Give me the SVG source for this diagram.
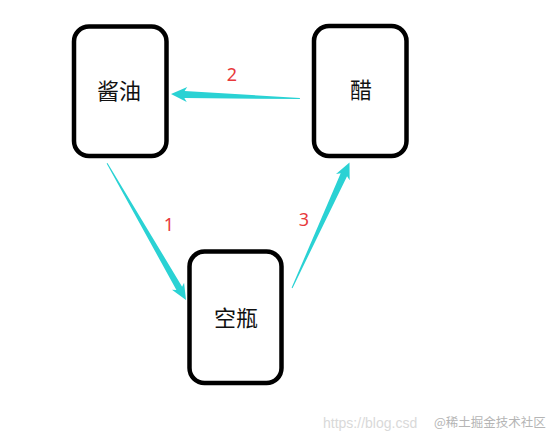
<svg xmlns="http://www.w3.org/2000/svg" width="553" height="443" viewBox="0 0 553 443">
  <style>
    .box { fill: #ffffff; stroke: #000000; stroke-width: 4.5; }
    .lbl { font-family: "Noto Sans CJK SC", "Noto Sans", sans-serif; font-size: 22px; fill: #111111; text-anchor: middle; }
    .num { font-family: "Noto Sans", "Liberation Sans", sans-serif; font-size: 18px; fill: #e8393b; text-anchor: middle; }
    .arr { fill: #2ad2d4; }
    .wm1 { font-family: "Liberation Sans", "Noto Sans", sans-serif; font-size: 14px; fill: #d9d9d9; }
    .wm2 { font-family: "Noto Sans CJK SC", "Noto Sans", sans-serif; font-size: 12.5px; fill: #b5b5b5; }
  </style>
  <rect width="553" height="443" fill="#ffffff"/>
  <g id="connectors">
    <g id="edge-1" transform="translate(186,300) rotate(60.03)">
      <polygon class="arr" points="0,0 -16,-7 -13.5,-3.3 -158,-0.5 -158,0.5 -13.5,3.3 -16,7"/>
    </g>
    <g id="edge-2" transform="translate(171,94) rotate(-178)">
      <polygon class="arr" points="0,0 -16,-7.5 -13.5,-3.5 -129,-0.6 -129,0.6 -13.5,3.5 -16,7.5"/>
    </g>
    <g id="edge-3" transform="translate(349.5,162.5) rotate(-65.4)">
      <polygon class="arr" points="0,0 -16,-7.5 -13.5,-3.5 -138,-0.5 -138,0.5 -13.5,3.5 -16,7.5"/>
    </g>
    <text class="num" x="169" y="231">1</text>
    <text class="num" x="232" y="81">2</text>
    <text class="num" x="304" y="226">3</text>
  </g>
  <g id="node-soy">
    <rect class="box" x="74" y="26.5" width="92.5" height="129.5" rx="15"/>
    <text class="lbl" x="119" y="99">酱油</text>
  </g>
  <g id="node-vinegar">
    <rect class="box" x="314" y="26" width="92.5" height="130" rx="15"/>
    <text class="lbl" x="361" y="98">醋</text>
  </g>
  <g id="node-empty">
    <rect class="box" x="189.5" y="251.5" width="92" height="131.5" rx="15"/>
    <text class="lbl" x="236" y="326">空瓶</text>
  </g>
  <g id="watermark">
    <text class="wm1" x="323" y="428">https://blog.csd</text>
    <text class="wm2" x="434" y="427">@稀土掘金技术社区</text>
  </g>
</svg>
